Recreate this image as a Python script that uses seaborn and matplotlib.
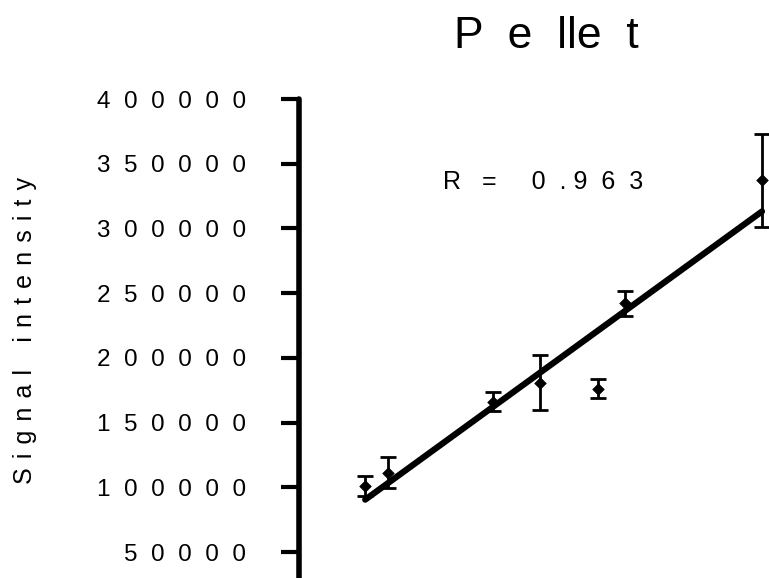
import numpy as np
import matplotlib
matplotlib.use("Agg")
import matplotlib.pyplot as plt
import seaborn as sns

# Pellet series: amount loaded vs measured signal, with SD
amount = [1.43, 1.92, 4.19, 5.21, 6.46, 7.04, 10.0]
signal = [101000, 111300, 166300, 181000, 176300, 242100, 337300]
sd = [7500, 12000, 7500, 21500, 7500, 9500, 36000]

y_ticks = [50000, 100000, 150000, 200000, 250000, 300000, 350000, 400000]
title = "P  e  lle  t"
y_label_words = ["Signal", "intensity"]


def spaced(s, gap="  "):
    return gap.join(s)


sns.set_theme(style="white")
plt.rcParams["font.family"] = ["Liberation Sans", "DejaVu Sans"]
plt.rcParams["text.color"] = "black"
plt.rcParams["ytick.color"] = "black"

fig = plt.figure(figsize=(7.69, 5.78), dpi=100)
ax = fig.add_axes([299 / 769, 0.0, 1 - 299 / 769, 1 - 99 / 578])

# least-squares line over the data range
sns.regplot(x=amount, y=signal, scatter=False, ci=None, ax=ax, truncate=True,
            line_kws=dict(color="black", lw=4.5, solid_capstyle="round"))

ax.errorbar(amount, signal, yerr=sd, fmt="none", ecolor="black",
            elinewidth=2, capsize=6, capthick=2, clip_on=False)
sns.scatterplot(x=amount, y=signal, ax=ax, marker="D", s=35, color="black",
                edgecolor="black", clip_on=False, zorder=5)

# correlation coefficient of the fitted data
r = np.corrcoef(amount, signal)[0, 1]
whole, frac = f"{r:.3f}".split(".")
r_txt = "R   =     " + whole + "  . " + spaced(frac)
ax.text(3.1, 335800, r_txt, fontsize=18, va="center", ha="left")

ax.set_xlim(0, 470 / 46.3)
ax.set_ylim(30000, 400000)
ax.set_yticks(y_ticks)
ax.set_yticklabels([spaced(str(v)) for v in y_ticks], fontsize=17.5)
ax.set_xticks([])

for side in ["top", "right", "bottom"]:
    ax.spines[side].set_visible(False)
ax.spines["left"].set_linewidth(4)
ax.spines["left"].set_color("black")
ax.spines["left"].set_capstyle("round")
ax.tick_params(axis="y", direction="out", length=13, width=3, color="black",
               pad=25, left=True)
ax.set_facecolor("white")

letter_gap = " \u200a"
y_label = (letter_gap * 3).join(spaced(w, letter_gap) for w in y_label_words)
fig.text(13 / 769, 1 - 331 / 578, y_label, rotation=90, fontsize=18,
         ha="left", va="center")
fig.text(546 / 769, 1 - 36 / 578, title, fontsize=32, ha="center", va="center")

fig.savefig("out.png", dpi=100, facecolor="white")
